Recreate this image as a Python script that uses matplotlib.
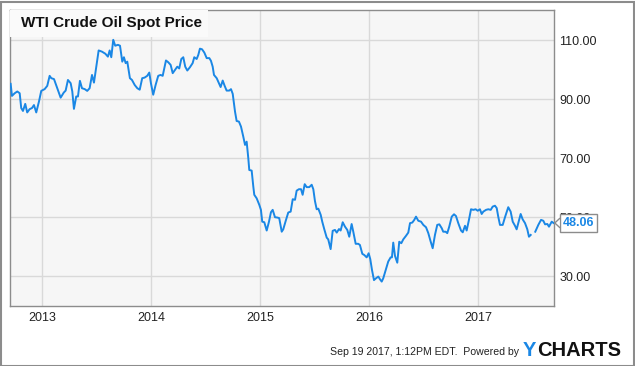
import numpy as np
import matplotlib
matplotlib.use("Agg")
import matplotlib.pyplot as plt
from matplotlib.patches import Rectangle, Polygon
from matplotlib.transforms import blended_transform_factory

plt.rcParams['font.family'] = ['Liberation Sans', 'DejaVu Sans']

# fechas en años decimales y precio (USD/barril)
years = [2012.708, 2012.720, 2012.745, 2012.769, 2012.791, 2012.805, 2012.821, 2012.842,
         2012.860, 2012.882, 2012.904, 2012.922, 2012.943, 2012.968, 2012.989, 2013.020,
         2013.044, 2013.066, 2013.081, 2013.106, 2013.136, 2013.167, 2013.195, 2013.213,
         2013.234, 2013.259, 2013.274, 2013.289, 2013.310, 2013.326, 2013.344, 2013.363,
         2013.388, 2013.411, 2013.433, 2013.455, 2013.473, 2013.516, 2013.546, 2013.577,
         2013.601, 2013.617, 2013.632, 2013.650, 2013.668, 2013.693, 2013.712, 2013.733,
         2013.748, 2013.764, 2013.779, 2013.803, 2013.822, 2013.847, 2013.871, 2013.893,
         2013.916, 2013.938, 2013.962,
         2013.981, 2013.996, 2014.017, 2014.039, 2014.063, 2014.085, 2014.104, 2014.134,
         2014.155, 2014.177, 2014.196, 2014.217, 2014.238, 2014.256, 2014.275, 2014.293,
         2014.311, 2014.330, 2014.354, 2014.379, 2014.394, 2014.416, 2014.431, 2014.446,
         2014.465, 2014.486, 2014.508, 2014.532, 2014.547, 2014.563, 2014.575, 2014.600,
         2014.618, 2014.636, 2014.655, 2014.673, 2014.691, 2014.715, 2014.731, 2014.747,
         2014.768, 2014.783, 2014.804, 2014.823, 2014.844, 2014.860, 2014.875, 2014.890,
         2014.899, 2014.921, 2014.936, 2014.945, 2014.967, 2014.991, 2015.006, 2015.018,
         2015.037, 2015.059, 2015.080, 2015.098, 2015.114, 2015.135, 2015.156, 2015.174,
         2015.197, 2015.211, 2015.233, 2015.257, 2015.279, 2015.298, 2015.319, 2015.334,
         2015.355, 2015.374, 2015.389, 2015.408, 2015.426, 2015.450, 2015.472, 2015.487,
         2015.502, 2015.518, 2015.533, 2015.555,
         2015.569, 2015.588, 2015.610, 2015.624, 2015.646, 2015.665, 2015.686, 2015.702,
         2015.723, 2015.738, 2015.757, 2015.778, 2015.799, 2015.817, 2015.839, 2015.854,
         2015.876, 2015.900, 2015.915, 2015.937, 2015.955, 2015.977, 2015.995, 2016.010,
         2016.026, 2016.044, 2016.062, 2016.084, 2016.099, 2016.115, 2016.129, 2016.154,
         2016.175, 2016.197, 2016.209, 2016.221, 2016.237, 2016.258, 2016.276, 2016.295,
         2016.313, 2016.338, 2016.359, 2016.375, 2016.396, 2016.414, 2016.430, 2016.451,
         2016.476, 2016.497, 2016.522, 2016.543, 2016.565, 2016.583, 2016.604, 2016.625,
         2016.644, 2016.666, 2016.680, 2016.702, 2016.717, 2016.735, 2016.758, 2016.779,
         2016.797, 2016.818, 2016.843, 2016.859, 2016.880, 2016.895, 2016.916, 2016.935,
         2016.956, 2016.978, 2016.996, 2017.017, 2017.033, 2017.048, 2017.073, 2017.094,
         2017.116, 2017.134, 2017.155, 2017.171, 2017.185, 2017.201, 2017.226, 2017.247,
         2017.277, 2017.299, 2017.318, 2017.339, 2017.354, 2017.369, 2017.391, 2017.409,
         2017.431, 2017.452, 2017.467, 2017.483, 2017.500, 2017.525, 2017.553, 2017.578,
         2017.599, 2017.615, 2017.636, 2017.651, 2017.676, 2017.692]
prices = [95.2, 91.1, 92.0, 92.6, 92.0, 87.0, 86.0, 88.4,
          85.5, 86.6, 87.0, 88.0, 85.5, 89.2, 92.8, 93.4,
          94.5, 97.9, 97.1, 96.8, 93.7, 90.5, 92.2, 92.9,
          96.5, 95.4, 92.6, 86.7, 90.9, 90.9, 96.2, 93.7,
          93.4, 92.8, 93.7, 98.2, 95.6, 106.5, 106.1, 105.4,
          104.4, 106.5, 104.2, 110.1, 108.1, 108.4, 108.1, 102.7,
          104.2, 102.2, 102.7, 97.1, 96.5, 94.8, 93.7, 93.2,
          97.1, 97.3, 97.9,
          99.0, 95.4, 91.5, 94.8, 97.9, 98.2, 97.9, 103.1,
          102.5, 101.6, 98.8, 99.9, 101.0, 100.4, 103.6, 104.2,
          101.0, 99.7, 100.8, 102.2, 104.2, 103.6, 105.0, 107.1,
          106.9, 105.8, 103.9, 103.9, 103.0, 101.0, 98.2, 97.1,
          95.6, 94.1, 96.3, 94.5, 92.9, 92.9, 93.4, 91.8,
          85.8, 82.6, 82.4, 80.7, 77.3, 74.5, 75.6, 70.0,
          66.0, 65.8, 60.4, 57.6, 56.4, 54.2, 52.5, 48.5,
          48.3, 45.5, 48.5, 51.7, 52.5, 50.0, 49.9, 49.7,
          45.1, 45.9, 48.7, 51.6, 51.9, 56.1, 55.9, 59.0,
          59.5, 59.5, 57.6, 61.2, 60.2, 60.2, 61.0, 59.5,
          55.5, 52.7, 52.9, 50.8,
          48.5, 45.9, 43.1, 42.5, 39.2, 45.4, 45.7, 44.8,
          46.0, 45.5, 48.3, 46.8, 45.7, 43.4, 47.7, 45.1,
          41.0, 41.0, 40.6, 37.6, 37.2, 36.4, 37.8, 35.8,
          32.1, 28.7, 29.3, 29.9, 29.0, 28.2, 29.3, 32.4,
          35.0, 36.4, 36.4, 41.4, 36.9, 34.6, 41.7, 41.2,
          42.5, 43.7, 44.8, 48.0, 48.2, 49.1, 50.2, 48.8,
          48.5, 47.4, 46.6, 44.6, 41.7, 39.5, 44.0, 47.4,
          47.6, 46.3, 45.1, 45.1, 44.6, 46.8, 50.2, 51.0,
          50.4, 48.0, 45.5, 44.9, 47.1, 45.5, 49.1, 52.7,
          52.5, 52.7, 52.2, 52.7, 51.1, 51.9, 52.5, 52.7,
          52.5, 53.6, 53.9, 53.1, 50.2, 47.4, 47.4, 50.0,
          53.4, 51.9, 48.5, 47.1, 45.9, 48.0, 51.1, 49.3,
          48.0, 45.9, 43.4, 44.0, np.nan, 45.1, 47.4, 49.1,
          48.8, 47.6, 47.7, 46.8, 48.5, 48.06]

year_ticks = [2013, 2014, 2015, 2016, 2017]
price_ticks = [30, 50, 70, 90, 110]
last_price = 48.06

line_color = '#1a87e5'

fig = plt.figure(figsize=(6.35, 3.66), dpi=100)
ax = fig.add_axes([10/635, 1 - 305.5/366, 544/635, 295.5/366])
ax.set_facecolor('#f6f6f6')

ax.plot(years, prices, color=line_color, lw=1.4, zorder=3)

ax.set_xlim(2012.702, 2017.697)
ax.set_ylim(20.1, 120.2)
ax.set_xticks(year_ticks)
ax.set_xticklabels([str(y) for y in year_ticks])
ax.set_yticks(price_ticks)
ax.set_yticklabels(['%.2f' % p for p in price_ticks])
ax.yaxis.tick_right()
ax.tick_params(axis='both', length=0, labelsize=9, labelcolor='#222222')
ax.tick_params(axis='y', pad=4)
ax.tick_params(axis='x', pad=5)
ax.grid(True, color='#d9d9d9', lw=1)
ax.set_axisbelow(True)
for s in ax.spines.values():
    s.set_color('#8c8c8c')
    s.set_linewidth(1)

# caja del título
ax.add_patch(Rectangle((0, 0.9086), 0.364, 0.0914, transform=ax.transAxes,
                       facecolor='#fafafa', edgecolor='none', zorder=4))
ax.text(0.02, 0.955, 'WTI Crude Oil Spot Price', transform=ax.transAxes,
        fontsize=11, fontweight='bold', color='#111111', va='center', ha='left', zorder=5)

# etiqueta del último valor (tapa la etiqueta 50.00, como en el original)
tr = blended_transform_factory(ax.transAxes, ax.transData)
ax.text(1.0154, last_price, '%.2f' % last_price, transform=tr, fontsize=9,
        fontweight='bold', color=line_color, va='center', ha='left', clip_on=False, zorder=6,
        bbox=dict(boxstyle='square,pad=0.22', fc='white', ec='#8c8c8c', lw=1))
tip = Polygon([(1.0015, last_price), (1.0102, last_price + 1.5), (1.0102, last_price - 1.5)],
              closed=True, transform=tr, fc='white', ec='none', clip_on=False, zorder=7)
ax.add_patch(tip)
ax.plot([1.0102, 1.0015, 1.0102], [last_price + 1.5, last_price, last_price - 1.5],
        transform=tr, color='#8c8c8c', lw=1, clip_on=False, zorder=8)

# pie de página
fig.text(519/635, 1 - 352/366, 'Sep 19 2017, 1:12PM EDT.  Powered by', fontsize=7.6,
         color='#222222', ha='right', va='center')
fig.text(523/635, 1 - 351/366, 'Y', fontsize=14.5, fontweight='bold', color=line_color,
         ha='left', va='center')
fig.text(537/635, 1 - 351/366, 'CHARTS', fontsize=14.5, fontweight='bold', color='#111111',
         ha='left', va='center')

# marco exterior
fig.add_artist(Rectangle((0.5/635, 0.5/366), 633/635, 364/366, transform=fig.transFigure,
                         fill=False, edgecolor='#8c8c8c', lw=1.5))

fig.savefig('out.png', dpi=100, facecolor='white')
